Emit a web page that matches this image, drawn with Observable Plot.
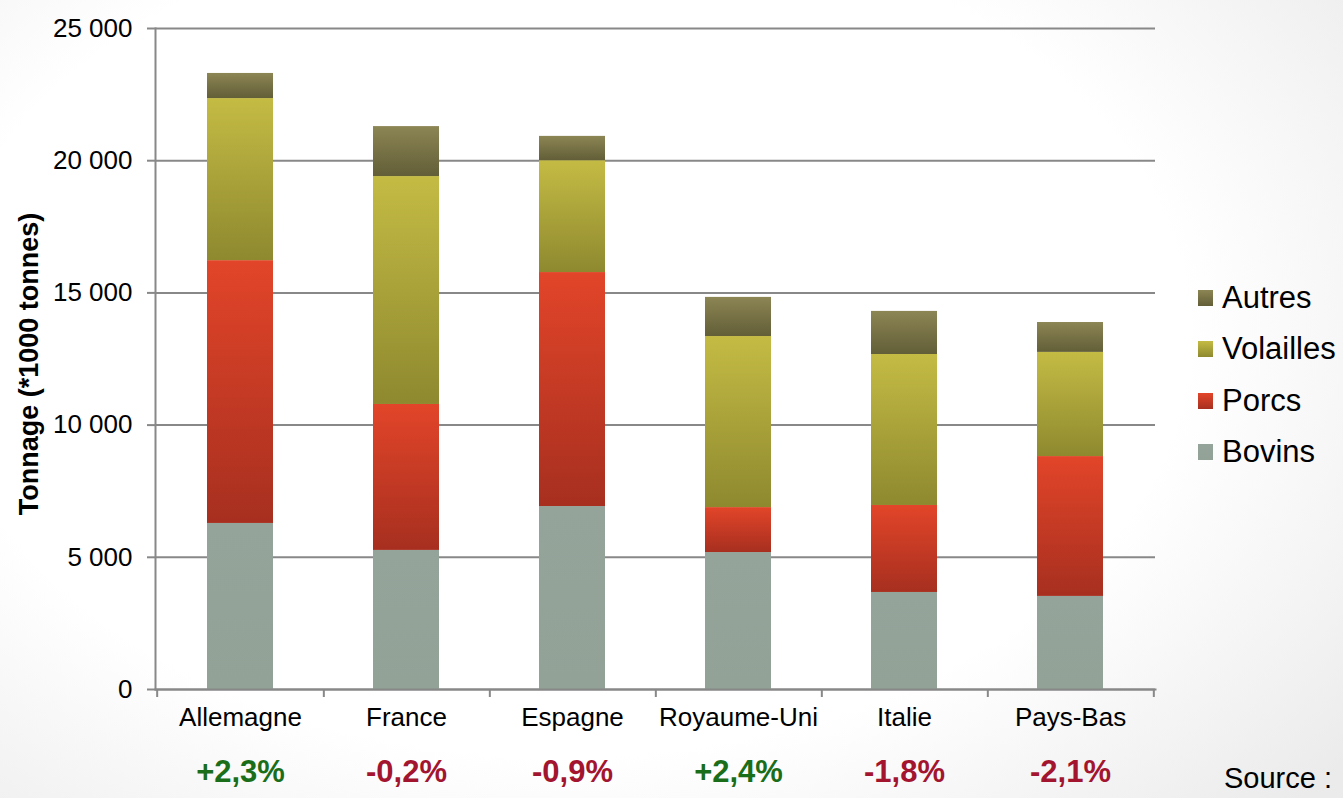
<!DOCTYPE html>
<html>
<head>
<meta charset="utf-8">
<script src="https://cdn.jsdelivr.net/npm/d3@7"></script>
<script src="https://cdn.jsdelivr.net/npm/@observablehq/plot@0.6"></script>
<style>
  html, body { margin: 0; padding: 0; }
  body {
    width: 1343px; height: 798px; overflow: hidden; position: relative;
    font-family: "Liberation Sans", Arial, sans-serif;
    background: radial-gradient(ellipse 75% 85% at 42% 42%, #ffffff 62%, #ebebeb 100%);
  }
  #chart { position: absolute; left: 0; top: 0; }
  #legend { position: absolute; left: 1198px; top: 272px; }
  .item { display: flex; align-items: center; height: 51.5px; font-size: 31px; color: #000; }
  .sw { width: 15px; height: 16px; margin-right: 9px; }
  #source { position: absolute; left: 1224px; top: 762px; font-size: 29px; color: #000; }
</style>
</head>
<body>
<div id="chart"></div>
<div id="legend"></div>
<div id="source">Source :</div>
<script>
const countries = ["Allemagne", "France", "Espagne", "Royaume-Uni", "Italie", "Pays-Bas"];
const series = ["Bovins", "Porcs", "Volailles", "Autres"];
const bovins    = [6280, 5260, 6920, 5180, 3670, 3520];
const porcs     = [9940, 5520, 8850, 1700, 3290, 5290];
const volailles = [6130, 8620, 4230, 6470, 5710, 3940];
const autres    = [950, 1890, 920, 1480, 1630, 1130];
const growth    = [2.3, -0.2, -0.9, 2.4, -1.8, -2.1];
const yTicks    = [0, 5000, 10000, 15000, 20000, 25000];
const yTitle    = "Tonnage (*1000 tonnes)";

const gradients = {
  Bovins:    ["#95a49a", "#93a297"],
  Porcs:     ["#e24529", "#a72f1f"],
  Volailles: ["#c4bb44", "#8e892f"],
  Autres:    ["#8c8554", "#625e37"]
};
const ids = {Bovins: "gB", Porcs: "gP", Volailles: "gV", Autres: "gA"};

const valuesBySeries = {Bovins: bovins, Porcs: porcs, Volailles: volailles, Autres: autres};
const data = [];
countries.forEach((c, i) => {
  series.forEach(s => data.push({country: c, series: s, value: valuesBySeries[s][i]}));
});

const loc = d3.formatLocale({decimal: ",", thousands: " ", grouping: [3], currency: ["", ""]});
const fmtThousands = loc.format(",");
const fmtPct = d => (d > 0 ? "+" : d < 0 ? "-" : "") + loc.format(".1f")(Math.abs(d)) + "%";

const pctData = countries.map((c, i) => ({country: c, g: growth[i]}));

function defs() {
  const d = d3.create("svg:defs");
  for (const s of series) {
    const g = d.append("linearGradient").attr("id", ids[s]).attr("x1", 0).attr("y1", 0).attr("x2", 0).attr("y2", 1);
    g.append("stop").attr("offset", "0%").attr("stop-color", gradients[s][0]);
    g.append("stop").attr("offset", "100%").attr("stop-color", gradients[s][1]);
  }
  return d.node();
}

const W = 1343, ML = 155, MR = 188;
const step = (W - ML - MR) / countries.length;

const chart = Plot.plot({
  width: W,
  height: 798,
  marginLeft: ML,
  marginRight: MR,
  marginTop: 28,
  marginBottom: 109,
  style: {background: "transparent", fontFamily: "'Liberation Sans', Arial, sans-serif", color: "#000", overflow: "visible"},
  x: {domain: countries, paddingInner: 0.6, paddingOuter: 0.3, label: null},
  y: {domain: [0, 25000], label: null},
  color: {domain: series, range: series.map(s => `url(#${ids[s]})`)},
  marks: [
    defs,
    Plot.gridY(yTicks, {stroke: "#888", strokeOpacity: 1, strokeWidth: 2}),
    Plot.barY(data, {x: "country", y: "value", fill: "series"}),
    Plot.frame({anchor: "left", stroke: "#888", strokeWidth: 2}),
    Plot.frame({anchor: "bottom", stroke: "#888", strokeWidth: 2}),
    Plot.axisY(yTicks, {tickFormat: fmtThousands, tickSize: 8, tickPadding: 15, fontSize: 26, stroke: "#888", strokeWidth: 2, label: null, fill: "#000"}),
    Plot.axisX({tickSize: 0, tickPadding: 18, fontSize: 26, label: null, fill: "#000"}),
    Plot.axisX(countries, {text: null, tickSize: 8, dx: step / 2, stroke: "#888", strokeWidth: 2, label: null}),
    Plot.axisX([countries[0]], {text: null, tickSize: 8, dx: -step / 2, stroke: "#888", strokeWidth: 2, label: null}),
    Plot.text([yTitle], {frameAnchor: "left", textAnchor: "middle", rotate: -90, dx: -126, dy: 5, fontWeight: "bold", fontSize: 27, fill: "#000"}),
    Plot.text(pctData.filter(d => d.g >= 0), {x: "country", text: d => fmtPct(d.g), frameAnchor: "bottom", dy: 92, fontWeight: "bold", fontSize: 31, fill: "#1a6e1a"}),
    Plot.text(pctData.filter(d => d.g < 0), {x: "country", text: d => fmtPct(d.g), frameAnchor: "bottom", dy: 92, fontWeight: "bold", fontSize: 31, fill: "#a3152f"})
  ]
});
document.getElementById("chart").appendChild(chart);

const legend = document.getElementById("legend");
for (const s of series.slice().reverse()) {
  const it = document.createElement("div");
  it.className = "item";
  const sw = document.createElement("span");
  sw.className = "sw";
  sw.style.background = `linear-gradient(${gradients[s][0]}, ${gradients[s][1]})`;
  const t = document.createElement("span");
  t.textContent = s;
  it.appendChild(sw); it.appendChild(t);
  legend.appendChild(it);
}
</script>
</body>
</html>
